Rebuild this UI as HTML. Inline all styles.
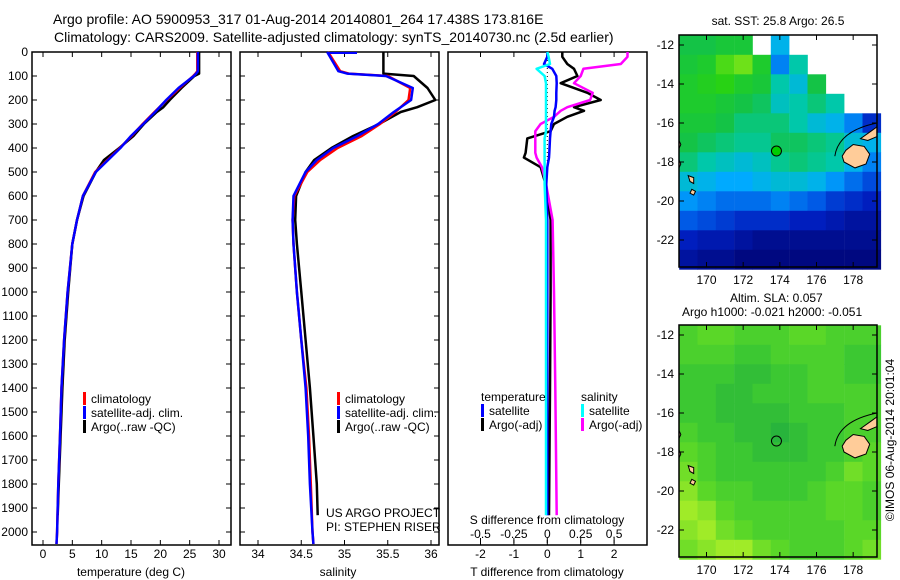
<!DOCTYPE html>
<html><head><meta charset="utf-8">
<style>
html,body{margin:0;padding:0;background:#fff;}
svg{display:block;font-family:"Liberation Sans",sans-serif;}
text{fill:#000;}
</style></head>
<body>
<svg id="fig" width="900" height="580" viewBox="0 0 900 580" xmlns="http://www.w3.org/2000/svg">
<text x="53" y="24" font-size="14">Argo profile: AO 5900953_317 01-Aug-2014 20140801_264 17.438S 173.816E</text>
<text x="54" y="42" font-size="14">Climatology: CARS2009. Satellite-adjusted climatology: synTS_20140730.nc (2.5d earlier)</text>
</svg>
<script>
// ---------- data ----------
const depthTicks = [0,100,200,300,400,500,600,700,800,900,1000,1100,1200,1300,1400,1500,1600,1700,1800,1900,2000];
const tempTicks = [0,5,10,15,20,25,30];
const salTicks = [34,34.5,35,35.5,36];
const salTickLabels = ["34","34.5","35","35.5","36"];
const tdiffTicks = [-2,-1,0,1,2];
const sdiffTicks = [-0.5,-0.25,0,0.25,0.5];
const sdiffTickLabels = ["-0.5","-0.25","0","0.25","0.5"];

const climDepth = [0,80,90,100,150,200,250,300,350,400,450,500,600,700,800,1000,1200,1400,1600,1800,2000,2050];
const climTemp  = [26.3,26.3,26.0,25.6,23.3,21.1,19.0,17.0,15.1,13.1,11.0,8.9,6.8,5.8,5.0,4.2,3.6,3.15,2.9,2.6,2.4,2.3];
const satTemp   = [26.4,26.4,26.1,25.7,23.1,21.0,19.1,17.1,15.0,13.2,11.1,9.0,6.8,5.8,5.0,4.2,3.6,3.15,2.9,2.6,2.4,2.3];
const argoDepth = [0,90,100,150,200,230,250,300,350,400,450,500,600,700,800,1000,1200,1400,1600,1800,1930];
const argoTemp  = [26.6,26.6,25.8,23.6,21.6,20.5,19.4,17.2,15.4,13.0,10.4,9.0,6.9,5.8,5.0,4.3,3.7,3.3,3.0,2.7,2.5];

const climSal = [34.81,34.95,35.05,35.5,35.76,35.74,35.59,35.41,35.2,34.92,34.72,34.57,34.42,34.40,34.41,34.45,34.5,34.56,34.59,34.61,34.63,34.64];
const satSal  = [34.80,34.93,35.03,35.48,35.79,35.77,35.57,35.39,35.15,34.87,34.68,34.55,34.41,34.40,34.41,34.45,34.5,34.55,34.58,34.60,34.63,34.64];
const argoSal = [35.45,35.45,35.8,35.96,36.05,35.84,35.65,35.4,35.1,34.85,34.65,34.55,34.44,34.43,34.45,34.5,34.55,34.6,34.64,34.68,34.69];

const diffDepth = [0,20,50,70,100,130,170,200,230,245,270,300,330,360,420,440,480,550,700,1000,1400,1930];
const argoTdiff = [0.45,0.45,0.6,0.8,0.9,0.4,1.2,1.6,0.8,1.1,0.6,0.2,0.1,-0.6,-0.65,-0.7,-0.2,-0.05,0.1,0.1,0.08,0.05];
const argoSdiff = [0.6,0.6,0.55,0.27,0.25,0.2,0.34,0.32,0.15,0.1,0.05,-0.05,-0.09,-0.09,-0.09,-0.08,-0.04,-0.01,0.04,0.05,0.06,0.07];
const satTdiff  = [0,0,-0.1,0.15,0.27,0.28,0.27,0.27,0.25,0.22,0.2,0.12,0.1,0.08,0.06,0.05,0.0,-0.03,0.0,0.0,0.0,0.0];
const satSdiff  = [0,0.01,0.02,-0.08,-0.02,-0.01,-0.01,-0.01,-0.01,-0.01,-0.01,-0.01,-0.01,-0.02,-0.02,-0.02,-0.02,-0.02,-0.01,-0.01,-0.01,-0.01];

const mapLons = [169,170,171,172,173,174,175,176,177,178,179];
const mapLats = [-12,-13,-14,-15,-16,-17,-18,-19,-20,-21,-22,-23];
const sstGrid = [
 [26.0,26.0,26.1,26.1,NaN,25.3,NaN,NaN,NaN,NaN,NaN],
 [26.1,26.2,26.5,26.6,26.2,25.0,25.6,NaN,NaN,NaN,NaN],
 [26.2,26.3,26.4,26.2,26.1,25.6,25.4,26.0,NaN,NaN,NaN],
 [26.2,26.2,26.1,26.0,25.9,25.5,25.6,25.8,25.6,NaN,NaN],
 [26.1,26.1,26.0,25.8,25.8,25.8,25.6,25.4,25.3,25.0,24.5],
 [26.0,25.9,25.8,25.7,25.7,25.9,25.9,25.8,25.7,25.4,25.3],
 [25.8,25.6,25.5,25.4,25.5,25.7,25.8,25.7,25.6,25.3,25.0],
 [25.4,25.3,25.2,25.2,25.3,25.4,25.4,25.3,25.1,24.9,24.7],
 [25.1,25.0,24.9,24.9,24.9,25.0,24.9,24.8,24.6,24.5,24.4],
 [24.8,24.7,24.6,24.5,24.5,24.5,24.4,24.4,24.3,24.2,24.2],
 [24.4,24.3,24.3,24.2,24.1,24.1,24.1,24.1,24.1,24.1,24.1],
 [24.2,24.1,24.1,24.0,24.0,24.0,24.0,24.0,24.0,24.0,24.0]];
const slaGrid = [
 [0.06,0.07,0.07,0.06,0.06,0.06,0.07,0.07,0.06,0.06,0.06],
 [0.06,0.06,0.06,0.05,0.05,0.06,0.06,0.06,0.06,0.05,0.05],
 [0.05,0.05,0.05,0.04,0.04,0.05,0.05,0.06,0.06,0.05,0.05],
 [0.05,0.05,0.04,0.04,0.05,0.05,0.05,0.06,0.06,0.06,0.06],
 [0.05,0.05,0.04,0.04,0.04,0.04,0.05,0.05,0.05,0.06,0.06],
 [0.06,0.05,0.05,0.04,0.04,0.03,0.04,0.05,0.05,0.06,0.06],
 [0.07,0.06,0.05,0.05,0.04,0.04,0.04,0.05,0.05,0.06,0.07],
 [0.08,0.06,0.05,0.05,0.05,0.05,0.05,0.05,0.06,0.08,0.07],
 [0.09,0.07,0.06,0.06,0.05,0.05,0.05,0.06,0.07,0.07,0.06],
 [0.10,0.09,0.07,0.06,0.06,0.06,0.06,0.06,0.07,0.07,0.06],
 [0.09,0.10,0.08,0.07,0.06,0.06,0.06,0.06,0.06,0.07,0.07],
 [0.08,0.09,0.10,0.10,0.08,0.07,0.06,0.06,0.06,0.07,0.08]];
const argoLon = [173.816];
const argoLat = [-17.438];

// ---------- helpers ----------
const NS = "http://www.w3.org/2000/svg";
const svg = document.getElementById("fig");
function mk(tag, attrs, parent){const e=document.createElementNS(NS,tag);for(const k in attrs)e.setAttribute(k,attrs[k]);(parent||svg).appendChild(e);return e;}
function txt(x,y,s,anchor,size,parent){const t=mk("text",{x:x,y:y,"font-size":size||12,"text-anchor":anchor||"start"},parent);t.textContent=s;return t;}

const TOP=52,BOT=545;
const yD = d => TOP + d*0.24;
const P1={l:32,r:231}, P2={l:240,r:439}, P3={l:448,r:647};
const xT = v => 43 + v*5.867;
const xS = v => 258 + (v-34)*86.5;
const xTd = v => 547.3 + v*33.4;
const xSd = v => 547.3 + v*133.6;

function frame(P,name){
  const g=mk("g",{});
  
  
  mk("rect",{x:P.l,y:TOP,width:P.r-P.l,height:BOT-TOP,fill:"none",stroke:"#000","stroke-width":1.5},g);
  depthTicks.forEach(d=>{mk("line",{x1:P.l,x2:P.l+5,y1:yD(d),y2:yD(d),stroke:"#000"},g);mk("line",{x1:P.r-5,x2:P.r,y1:yD(d),y2:yD(d),stroke:"#000"},g);});
  return g;
}
function xticks(g,vals,labels,fx,top){
  vals.forEach((v,i)=>{const x=fx(v);mk("line",{x1:x,x2:x,y1:BOT,y2:BOT-5,stroke:"#000"},g);if(top)mk("line",{x1:x,x2:x,y1:TOP,y2:TOP+5,stroke:"#000"},g);
    const t=txt(x,558,labels[i],"middle",12,g);
    
    });
}
function line(xs,ds,fx,color,w,name,dash){
  const pts=xs.map((v,i)=>fx(v).toFixed(1)+","+yD(ds[i]).toFixed(1)).join(" ");
  const p=mk("polyline",{points:pts,fill:"none",stroke:color,"stroke-width":w||2.5,"stroke-linejoin":"round"});
  if(dash)p.setAttribute("stroke-dasharray",dash);
  
  
  return p;
}
function legend(x,y,items,name){
  const g=mk("g",{});
  
  
  items.forEach((it,i)=>{
    if(it[0])mk("rect",{x:x,y:y+i*14-11,width:3,height:13,fill:it[0]},g);
    txt(x+(it[0]?8:0),y+i*14,it[1],"start",12,g);
  });
}

// depth labels
depthTicks.forEach(d=>{const t=txt(28,yD(d)+4,String(d),"end",12);
  
  });

// panel 1
const g1=frame(P1,"temperature-panel");
xticks(g1,tempTicks,tempTicks.map(String),xT,true);
const t1=txt(131,576,"temperature (deg C)","middle",12);


line(argoTemp,argoDepth,xT,"#000",2.5,"argo-temperature-line");
line(climTemp,climDepth,xT,"#f00",2.5,"clim-temperature-line");
line(satTemp,climDepth,xT,"#00f",2.5,"sat-temperature-line");
legend(83,403,[["#f00","climatology"],["#00f","satellite-adj. clim."],["#000","Argo(..raw -QC)"]],"temperature-legend");

// panel 2
const g2=frame(P2,"salinity-panel");
xticks(g2,salTicks,salTickLabels,xS,true);
const t2=txt(338,576,"salinity","middle",12);


line(argoSal,argoDepth,xS,"#000",2.5,"argo-salinity-line");
line(climSal,climDepth,xS,"#f00",2.5,"clim-salinity-line");
line(satSal,climDepth,xS,"#00f",2.5,"sat-salinity-line");
mk("line",{x1:328,x2:357,y1:53,y2:53,stroke:"#00f","stroke-width":2});
legend(337,403,[["#f00","climatology"],["#00f","satellite-adj. clim."],["#000","Argo(..raw -QC)"]],"salinity-legend");
txt(326,517,"US ARGO PROJECT","start",12);
txt(326,531,"PI: STEPHEN RISER","start",12);

// panel 3
const g3=mk("g",{});


mk("rect",{x:P3.l,y:TOP,width:P3.r-P3.l,height:BOT-TOP,fill:"none",stroke:"#000","stroke-width":1.5},g3);
tdiffTicks.forEach(v=>{const x=xTd(v);mk("line",{x1:x,x2:x,y1:BOT,y2:BOT-5,stroke:"#000"},g3);
  const t=txt(x,558,String(v),"middle",12,g3);});
sdiffTicks.forEach((v,i)=>{const x=xSd(v);mk("line",{x1:x,x2:x,y1:TOP,y2:TOP+5,stroke:"#000"},g3);mk("line",{x1:x,x2:x,y1:BOT-2,y2:BOT-7,stroke:"#000"},g3);
  const t=txt(x,538,sdiffTickLabels[i],"middle",12,g3);});
txt(547,524,"S difference from climatology","middle",12,g3);
const t3=txt(547,576,"T difference from climatology","middle",12);


mk("line",{x1:547.3,x2:547.3,y1:TOP,y2:yD(460),stroke:"#000","stroke-dasharray":"1,3"});
line(argoTdiff,diffDepth,xTd,"#000",2.5,"argo-tdiff-line");
line(argoSdiff,diffDepth,xSd,"#f0f",2.5,"argo-sdiff-line");
line(satTdiff,diffDepth,xTd,"#00f",2.5,"sat-tdiff-line");
line(satSdiff,diffDepth,xSd,"#0ff",2.5,"sat-sdiff-line");
legend(481,401,[[null,"temperature"],["#00f","satellite"],["#000","Argo(-adj)"]],"tdiff-legend");
legend(581,401,[[null,"salinity"],["#0ff","satellite"],["#f0f","Argo(-adj)"]],"sdiff-legend");

// ---------- maps ----------
const ML=679, MR=877, LON0=168.5, LON1=179.3;
const xLon = v => ML + (v-LON0)*(MR-ML)/(LON1-LON0);
function sstColor(v){
  const stops=[[24.0,[0,8,128]],[24.4,[0,30,190]],[24.8,[0,90,230]],[25.2,[0,170,255]],[25.6,[0,200,170]],[26.0,[20,195,70]],[26.4,[40,210,20]],[26.8,[180,240,30]]];
  if(v<=stops[0][0])return "rgb("+stops[0][1]+")";
  for(let i=1;i<stops.length;i++){if(v<=stops[i][0]){const a=stops[i-1],b=stops[i],f=(v-a[0])/(b[0]-a[0]);return "rgb("+a[1].map((c,k)=>Math.round(c+(b[1][k]-c)*f)).join(",")+")";}}
  return "rgb("+stops[stops.length-1][1]+")";
}
function slaColor(v){
  const stops=[[0.03,[40,180,60]],[0.05,[60,200,50]],[0.07,[90,215,40]],[0.10,[160,235,40]]];
  if(v<=stops[0][0])return "rgb("+stops[0][1]+")";
  for(let i=1;i<stops.length;i++){if(v<=stops[i][0]){const a=stops[i-1],b=stops[i],f=(v-a[0])/(b[0]-a[0]);return "rgb("+a[1].map((c,k)=>Math.round(c+(b[1][k]-c)*f)).join(",")+")";}}
  return "rgb("+stops[stops.length-1][1]+")";
}
function drawMap(mt,mb,grid,cfn,name,fillCircle){
  const yLat = v => mt+10 + (-12 - v)*19.5;
  const g=mk("g",{});
  
  
  const cw=(MR-ML)/grid[0].length, ch=(mb-mt)/grid.length;
  grid.forEach((row,r)=>row.forEach((v,c)=>{
    if(isNaN(v))return;
    const cell=mk("rect",{x:(xLon(mapLons[c])-cw/2).toFixed(1),y:(yLat(mapLats[r])-ch/2).toFixed(1),width:(cw+0.6).toFixed(1),height:(ch+0.6).toFixed(1),fill:cfn(v)},g);
    
    
  }));
  // land (Fiji + islands)
  const fiji=[[177.6,-17.4],[178.0,-17.1],[178.6,-17.2],[178.9,-17.6],[178.7,-18.1],[178.1,-18.3],[177.5,-18.0],[177.4,-17.7]];
  const vanua=[[178.4,-16.8],[179.0,-16.4],[179.3,-16.2],[179.3,-16.7],[178.8,-16.9]];
  const isl=[[[168.5,-16.9],[168.6,-17.1],[168.5,-17.3]],[[168.5,-17.9],[168.6,-18.1],[168.5,-18.3]],[[169.0,-18.7],[169.3,-18.8],[169.3,-19.1],[169.1,-19.0]],[[169.2,-19.4],[169.4,-19.5],[169.3,-19.7],[169.1,-19.6]]];
  [fiji,vanua].concat(isl).forEach(poly=>{
    const lp=mk("polygon",{points:poly.map(p=>xLon(p[0]).toFixed(1)+","+yLat(p[1]).toFixed(1)).join(" "),fill:"#fc9",stroke:"#000","stroke-width":1},g);
    
    
  });
  mk("path",{d:"M"+xLon(177.0)+","+yLat(17.7*-1)+" Q"+xLon(177.2)+","+yLat(-16.4)+" "+xLon(179.3)+","+yLat(-16.0),fill:"none",stroke:"#000","stroke-width":1},g);
  const ac=mk("circle",{cx:xLon(argoLon[0]),cy:yLat(argoLat[0]),r:5,fill:fillCircle?"#0c0":"none",stroke:"#000","stroke-width":1},g);
  
  
  mk("rect",{x:ML,y:mt,width:MR-ML,height:mb-mt,fill:"none",stroke:"#000","stroke-width":1.5},g);
  [-12,-14,-16,-18,-20,-22].forEach(v=>{const y=yLat(v);mk("line",{x1:ML,x2:ML+5,y1:y,y2:y,stroke:"#000"},g);mk("line",{x1:MR-5,x2:MR,y1:y,y2:y,stroke:"#000"},g);txt(ML-5,y+4,String(v),"end",12,g);});
  [170,172,174,176,178].forEach(v=>{const x=xLon(v);mk("line",{x1:x,x2:x,y1:mb,y2:mb-5,stroke:"#000"},g);mk("line",{x1:x,x2:x,y1:mt,y2:mt+5,stroke:"#000"},g);txt(x,mb+17,String(v),"middle",12,g);});
}
drawMap(35,267,sstGrid,sstColor,"sst-map",true);
drawMap(325,557,slaGrid,slaColor,"sla-map",false);
txt(778,25,"sat. SST: 25.8 Argo: 26.5","middle",12);
txt(730,302,"Altim. SLA: 0.057","start",12);
txt(682,316,"Argo h1000: -0.021 h2000: -0.051","start",12);
const cr=txt(0,0,"\u00A9IMOS 06-Aug-2014 20:01:04","middle",12);
cr.setAttribute("transform","translate(894,440) rotate(-90)");


</script>
</body></html>
